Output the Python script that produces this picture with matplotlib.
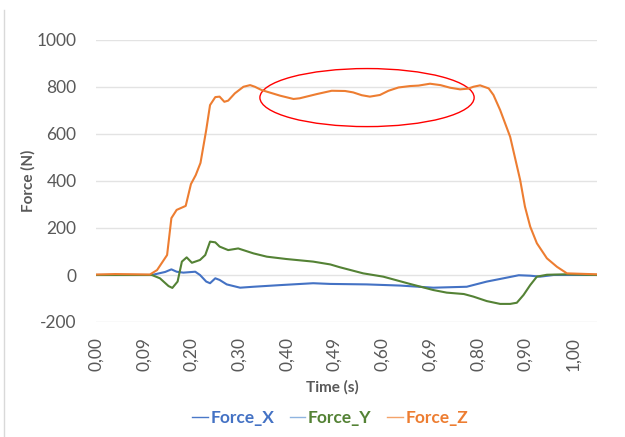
import numpy as np
import matplotlib.pyplot as plt
from matplotlib.patches import Ellipse
from matplotlib.lines import Line2D

plt.rcParams['font.family'] = ['Lato', 'DejaVu Sans']
plt.rcParams['axes.unicode_minus'] = False

# time (s) and force (N)
t_x = [0.0, 0.117, 0.145, 0.158, 0.169, 0.183, 0.208, 0.218, 0.231, 0.239, 0.250, 0.259,
       0.274, 0.302, 0.330, 0.386, 0.455, 0.491, 0.567, 0.638, 0.707, 0.777, 0.819,
       0.854, 0.886, 0.910, 0.931, 0.959, 1.049]
f_x = [0, 0, 13, 24, 14, 10, 14, 0, -28, -35, -14, -21,
       -40, -54, -50, -43, -35, -38, -40, -45, -54, -50, -28,
       -14, -1, -3, -7, 0, 0]

t_y = [0.0, 0.117, 0.134, 0.152, 0.160, 0.171, 0.180, 0.190, 0.201, 0.218, 0.229, 0.239,
       0.250, 0.259, 0.277, 0.298, 0.330, 0.358, 0.399, 0.455, 0.470, 0.491, 0.511,
       0.560, 0.602, 0.658, 0.707, 0.735, 0.771, 0.791, 0.819, 0.847, 0.868, 0.882,
       0.896, 0.910, 0.924, 0.945, 0.987, 1.049]
f_y = [0, 0, -14, -47, -55, -28, 57, 75, 52, 64, 85, 142,
       139, 121, 106, 113, 92, 78, 68, 57, 52, 45, 33,
       7, -7, -38, -64, -75, -81, -92, -111, -123, -123, -118,
       -85, -43, -7, 1, 3, 0]

t_z = [0.0, 0.04, 0.08, 0.113, 0.128, 0.149, 0.158, 0.169, 0.188, 0.199, 0.209, 0.219,
       0.231, 0.239, 0.250, 0.259, 0.269, 0.277, 0.291, 0.309, 0.323, 0.333, 0.347,
       0.386, 0.414, 0.427, 0.455, 0.463, 0.494, 0.522, 0.539, 0.557, 0.574, 0.595,
       0.613, 0.634, 0.658, 0.676, 0.700, 0.722, 0.742, 0.763, 0.780, 0.791, 0.805,
       0.823, 0.833, 0.847, 0.868, 0.889, 0.899, 0.910, 0.924, 0.945, 0.966, 0.987,
       1.049]
f_z = [2, 4, 3, 2, 21, 85, 242, 277, 294, 387, 425, 477,
       617, 723, 757, 759, 737, 742, 773, 801, 808, 801, 787,
       763, 749, 752, 766, 770, 784, 783, 777, 765, 759, 766,
       784, 798, 804, 806, 814, 808, 797, 790, 793, 801, 807,
       794, 766, 702, 588, 404, 291, 206, 135, 71, 35, 7,
       3]

tick_pos = [0.0, 0.1, 0.2, 0.3, 0.4, 0.5, 0.6, 0.7, 0.8, 0.9, 1.0]
tick_lab = ['0,00', '0,09', '0,20', '0,30', '0,40', '0,49', '0,60', '0,69', '0,80', '0,90', '1,00']

c_x = '#4472C4'
c_y = '#548235'
c_z = '#ED7D31'
grey = '#595959'

fig = plt.figure(figsize=(6.25, 4.37), dpi=100)
ax = fig.add_axes([96/625, 1-322/437, 501/625, 282/437])

ax.plot(t_x, f_x, color=c_x, lw=1.5)
ax.plot(t_y, f_y, color=c_y, lw=1.5)
ax.plot(t_z, f_z, color=c_z, lw=1.5)

# red ellipse around the plateau
ax.add_patch(Ellipse((0.568, 755), 0.449, 247, fill=False, ec='#FF0000', lw=1.0))

ax.set_xlim(0, 1.05)
ax.set_ylim(-200, 1000)
ax.set_yticks(range(-200, 1001, 200))
ax.set_xticks(tick_pos)
ax.set_xticklabels(tick_lab, rotation=90)
ax.tick_params(length=0, colors=grey, labelsize=12.5)
ax.tick_params(axis='y', pad=14)
ax.tick_params(axis='x', pad=11)
ax.grid(axis='y', color='#e3e3e3', lw=1)
ax.set_axisbelow(True)
for s in ax.spines.values():
    s.set_visible(False)

fig.text(28/625, 1-181/437, 'Force (N)', rotation=90, ha='center', va='center',
         fontsize=11, fontweight='bold', color=grey)
fig.text(332/625, 1-387/437, 'Time (s)', ha='center', va='center',
         fontsize=11, fontweight='bold', color=grey)

handles = [Line2D([], [], color='#4a78c8', lw=1),
           Line2D([], [], color='#8fb4e0', lw=1),
           Line2D([], [], color='#f4a36a', lw=1)]
leg = fig.legend(handles, ['Force_X', 'Force_Y', 'Force_Z'], loc='center',
                 bbox_to_anchor=(330/625, 1-418/437), ncol=3, frameon=False,
                 handlelength=0.9, handletextpad=0.15, columnspacing=0.9,
                 prop={'size': 12.5, 'weight': 'bold'})
for txt, c in zip(leg.get_texts(), [c_x, c_y, c_z]):
    txt.set_color(c)

# chart area left edge
fig.add_artist(Line2D([4/625, 4/625], [0, 1-10/437], color='#d9d9d9', lw=1))

fig.savefig('out.png', dpi=100)
